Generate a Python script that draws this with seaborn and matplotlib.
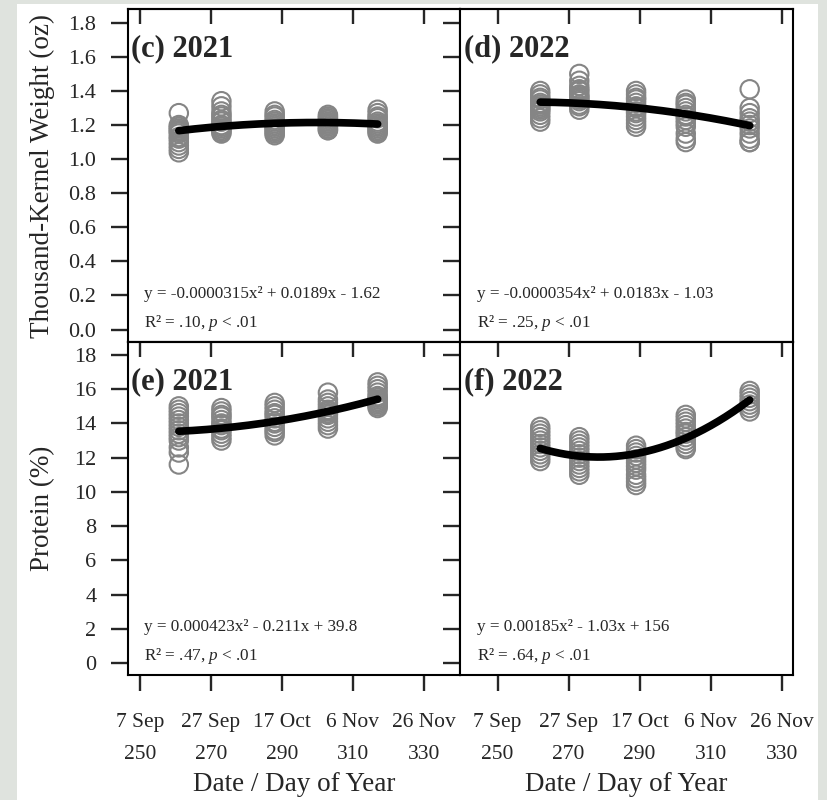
import numpy as np
import pandas as pd
import matplotlib
matplotlib.use("Agg")
import matplotlib.pyplot as plt
from matplotlib.patches import Rectangle
import seaborn as sns

# ---- sampling dates (day of year) ----
doy_2021 = [261, 273, 288, 303, 317]
doy_2022 = [262, 273, 289, 303, 321]

# ---- thousand-kernel weight (oz), one list per sampling date ----
tkw_2021 = [
    [1.27, 1.20, 1.19, 1.18, 1.17, 1.16, 1.15, 1.13, 1.12, 1.10, 1.08, 1.06, 1.04],
    [1.34, 1.31, 1.28, 1.26, 1.25, 1.23, 1.22, 1.20, 1.19, 1.18, 1.17, 1.16, 1.15],
    [1.28, 1.26, 1.25, 1.23, 1.22, 1.21, 1.20, 1.19, 1.18, 1.17, 1.16, 1.15, 1.14],
    [1.26, 1.25, 1.24, 1.23, 1.22, 1.21, 1.21, 1.20, 1.19, 1.18, 1.17, 1.17],
    [1.29, 1.27, 1.25, 1.24, 1.22, 1.21, 1.20, 1.19, 1.18, 1.17, 1.16, 1.15],
]
tkw_2022 = [
    [1.40, 1.38, 1.36, 1.35, 1.33, 1.32, 1.31, 1.30, 1.29, 1.28, 1.26, 1.24, 1.22],
    [1.50, 1.46, 1.43, 1.41, 1.40, 1.38, 1.37, 1.36, 1.35, 1.34, 1.32, 1.31, 1.29],
    [1.40, 1.38, 1.36, 1.35, 1.33, 1.31, 1.30, 1.28, 1.27, 1.25, 1.23, 1.21, 1.19],
    [1.35, 1.33, 1.32, 1.30, 1.28, 1.26, 1.25, 1.23, 1.21, 1.19, 1.15, 1.12, 1.10],
    [1.41, 1.30, 1.27, 1.24, 1.22, 1.20, 1.18, 1.15, 1.12, 1.10, 1.10],
]

# ---- grain protein (%), one list per sampling date ----
protein_2021 = [
    [15.0, 14.8, 14.6, 14.4, 14.2, 14.0, 13.8, 13.6, 13.4, 13.2, 13.0, 12.6, 12.3, 11.6],
    [14.9, 14.7, 14.5, 14.4, 14.2, 14.0, 13.9, 13.7, 13.6, 13.4, 13.2, 13.0],
    [15.2, 15.0, 14.8, 14.6, 14.5, 14.3, 14.1, 14.0, 13.8, 13.6, 13.5, 13.3],
    [15.8, 15.4, 15.2, 15.0, 14.8, 14.7, 14.6, 14.5, 14.3, 14.1, 13.9, 13.7],
    [16.4, 16.2, 16.0, 15.8, 15.6, 15.5, 15.4, 15.3, 15.2, 15.1, 15.0, 14.9],
]
protein_2022 = [
    [13.8, 13.6, 13.4, 13.2, 13.0, 12.8, 12.6, 12.4, 12.2, 12.0, 11.8],
    [13.2, 13.0, 12.8, 12.6, 12.4, 12.2, 12.0, 11.8, 11.6, 11.4, 11.2, 11.0],
    [12.7, 12.5, 12.3, 12.1, 11.9, 11.7, 11.5, 11.3, 11.0, 10.8, 10.6, 10.4],
    [14.5, 14.3, 14.1, 13.9, 13.7, 13.5, 13.4, 13.2, 13.0, 12.8, 12.6, 12.5],
    [15.9, 15.7, 15.5, 15.3, 15.1, 14.9, 14.7],
]

# ---- quadratic fits (a, b, c for y = a x^2 + b x + c) and fit statistics ----
fit_c = [-0.0000315, 0.0189, -1.62]
fit_d = [-0.0000354, 0.0183, -1.03]
fit_e = [0.000423, -0.211, 39.8]
fit_f = [0.00185, -1.0305, 155.54]
r2_values = [0.10, 0.25, 0.47, 0.64]
p_text = "< .01"

# ---- axis ticks ----
x_tick_doy = [250, 270, 290, 310, 330]
x_tick_dates = ["7 Sep", "27 Sep", "17 Oct", "6 Nov", "26 Nov"]
tkw_ticks = [0.0, 0.2, 0.4, 0.6, 0.8, 1.0, 1.2, 1.4, 1.6, 1.8]
protein_ticks = [0, 2, 4, 6, 8, 10, 12, 14, 16, 18]

panel_titles = ["(c) 2021", "(d) 2022", "(e) 2021", "(f) 2022"]

sns.set_style("ticks")
plt.rcParams["font.family"] = ["Liberation Serif", "DejaVu Serif"]
plt.rcParams["mathtext.fontset"] = "custom"
plt.rcParams["mathtext.rm"] = "Liberation Serif"
plt.rcParams["mathtext.it"] = "Liberation Serif:italic"

POINT_GREY = "#858585"
FRAME_LW = 1.5
TICK_LW = 1.7


def long_frame(doys, groups):
    rows = [(d, v) for d, vals in zip(doys, groups) for v in vals]
    return pd.DataFrame(rows, columns=["doy", "value"])


def num(v):
    return np.format_float_positional(abs(v), precision=3, unique=False,
                                      fractional=False, trim="-")


def equation(coef):
    a, b, c = coef
    return (f"y = {'-' if a < 0 else ''}{num(a)}x\u00b2 "
            f"{'+' if b >= 0 else '-'} {num(b)}x "
            f"{'+' if c >= 0 else '-'} {num(c)}")


fig = plt.figure(figsize=(8.27, 8.0), dpi=100, facecolor="#dfe3de")
fig.add_artist(Rectangle((17 / 827, 0), (818 - 17) / 827, 796 / 800,
                         transform=fig.transFigure, facecolor="white",
                         edgecolor="none", zorder=-10))

left_x, left_w = 127.7 / 827, 332.3 / 827
right_x, right_w = 460 / 827, 333 / 827
top_y, bottom_y, panel_h = 1 - 342 / 800, 1 - 675 / 800, 333 / 800

panels = [
    dict(rect=[left_x, top_y, left_w, panel_h], doy=doy_2021, data=tkw_2021,
         fit=fit_c, xlim=(246.6, 340.2), row="top", col="left"),
    dict(rect=[right_x, top_y, right_w, panel_h], doy=doy_2022, data=tkw_2022,
         fit=fit_d, xlim=(239.4, 333.2), row="top", col="right"),
    dict(rect=[left_x, bottom_y, left_w, panel_h], doy=doy_2021, data=protein_2021,
         fit=fit_e, xlim=(246.6, 340.2), row="bottom", col="left"),
    dict(rect=[right_x, bottom_y, right_w, panel_h], doy=doy_2022, data=protein_2022,
         fit=fit_f, xlim=(239.4, 333.2), row="bottom", col="right"),
]

for i, p in enumerate(panels):
    ax = fig.add_axes(p["rect"])
    ax.set_facecolor("white")
    df = long_frame(p["doy"], p["data"])

    sns.scatterplot(data=df, x="doy", y="value", ax=ax, marker="o", s=175,
                    facecolor="none", edgecolor=POINT_GREY, linewidth=1.5,
                    legend=False, zorder=2)

    xs = np.linspace(min(p["doy"]), max(p["doy"]), 200)
    ys = np.polyval(p["fit"], xs)
    sns.lineplot(x=xs, y=ys, ax=ax, color="black", linewidth=5.5,
                 solid_capstyle="round", zorder=3)

    ax.set_xlim(*p["xlim"])
    if p["row"] == "top":
        ax.set_ylim(-0.073, 1.881)
        ax.set_yticks(tkw_ticks)
        ax.set_yticklabels([f"{t:.1f}" for t in tkw_ticks])
    else:
        ax.set_ylim(-0.70, 18.76)
        ax.set_yticks(protein_ticks)
        ax.set_yticklabels([str(t) for t in protein_ticks])

    for side in ["left", "right", "top", "bottom"]:
        ax.spines[side].set_visible(True)
        ax.spines[side].set_linewidth(FRAME_LW)
        ax.spines[side].set_color("black")

    ax.tick_params(axis="y", direction="out", length=12.5, width=TICK_LW,
                   pad=10, labelsize=16, right=False,
                   labelleft=(p["col"] == "left"))

    ax.set_xticks(x_tick_doy)
    if p["row"] == "bottom":
        ax.set_xticklabels([f"{d}\n{n}" for d, n in zip(x_tick_dates, x_tick_doy)])
        ax.tick_params(axis="x", direction="out", length=11.5, width=TICK_LW,
                       pad=16, labelsize=15.5, top=False)
        for lbl in ax.get_xticklabels():
            lbl.set_linespacing(1.95)
    else:
        ax.tick_params(axis="x", bottom=False, labelbottom=False, top=False)

    # inward ticks along the top edge of every panel
    sec = ax.secondary_xaxis("top")
    sec.set_xticks(x_tick_doy)
    sec.tick_params(direction="in", length=11, width=TICK_LW, labeltop=False)
    sec.spines["top"].set_linewidth(FRAME_LW)

    ax.set_xlabel("")
    ax.set_ylabel("")

    ax.text(0.011, 0.858, panel_titles[i], transform=ax.transAxes,
            fontsize=22, fontweight="bold", ha="left", va="baseline")
    ax.text(0.05, 0.131, equation(p["fit"]), transform=ax.transAxes,
            fontsize=12.3, ha="left", va="baseline")
    r2 = f"{r2_values[i]:.2f}".lstrip("0")
    ax.text(0.05, 0.044, f"R\u00b2 = {r2}, $p$ {p_text}", transform=ax.transAxes,
            fontsize=12.3, ha="left", va="baseline")

fig.text(42.4 / 827, 1 - 175.5 / 800, "Thousand-Kernel Weight (oz)",
         rotation=90, ha="center", va="center", fontsize=19.5)
fig.text(42.4 / 827, 1 - 508.5 / 800, "Protein (%)",
         rotation=90, ha="center", va="center", fontsize=19.5)
for cx in [(127.7 + 460) / 2 / 827, (460 + 793) / 2 / 827]:
    fig.text(cx, 1 - 791 / 800, "Date / Day of Year", ha="center",
             va="baseline", fontsize=19.5)

fig.savefig("out.png", dpi=100, facecolor=fig.get_facecolor())
